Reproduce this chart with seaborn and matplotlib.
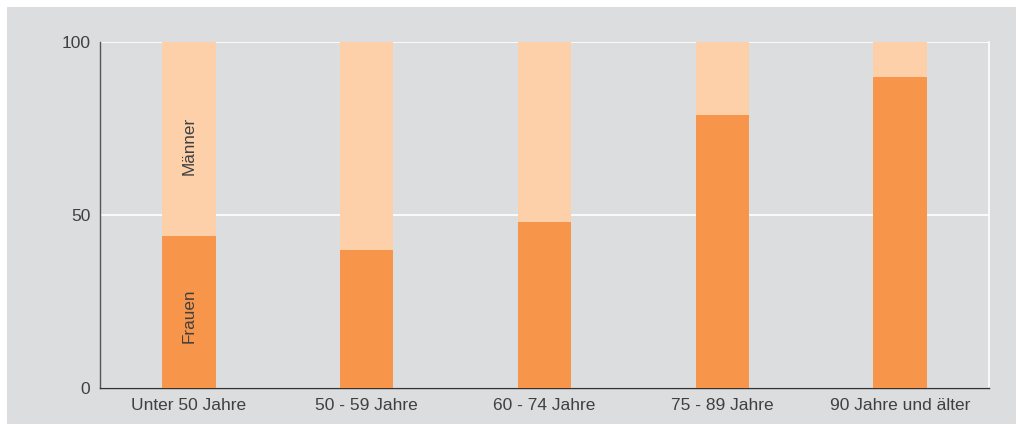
import matplotlib
matplotlib.use("Agg")
import matplotlib.pyplot as plt
import seaborn as sns
import pandas as pd
from matplotlib.patches import Rectangle

# data (percent)
groups = ["Unter 50 Jahre", "50 - 59 Jahre", "60 - 74 Jahre", "75 - 89 Jahre", "90 Jahre und älter"]
frauen = [44, 40, 48, 79, 90]
maenner = [100 - f for f in frauen]

df = pd.DataFrame({"Gruppe": groups, "Frauen": frauen, "Männer": maenner})
df["Gesamt"] = df["Frauen"] + df["Männer"]

bg = "#DCDDDF"
c_frauen = "#F7964A"
c_maenner = "#FDD0A9"
txt = "#404040"

sns.set_style("white")
plt.rcParams["font.family"] = ["Liberation Sans", "DejaVu Sans"]

fig = plt.figure(figsize=(10.2, 4.24), dpi=100)
fig.patch.set_facecolor("white")
fig.patches.append(Rectangle((7 / 1020, 0), 1009 / 1020, 1 - 7 / 424, transform=fig.transFigure,
                             facecolor=bg, edgecolor="none", zorder=-10))
ax = fig.add_axes([100 / 1020, 1 - 388 / 424, 889 / 1020, 346 / 424])
ax.set_facecolor(bg)

# stacked bars: full height (Männer) behind, Frauen on top
sns.barplot(data=df, x="Gruppe", y="Gesamt", color=c_maenner, width=0.30,
            saturation=1, linewidth=0, ax=ax, zorder=2)
sns.barplot(data=df, x="Gruppe", y="Frauen", color=c_frauen, width=0.30,
            saturation=1, linewidth=0, ax=ax, zorder=3)

ax.set_xlim(-0.5, 4.5)
ax.set_ylim(0, 100)
ax.set_yticks([0, 50, 100])
ax.yaxis.grid(True, color="white", linewidth=1.2)
ax.set_axisbelow(True)
ax.set_xlabel("")
ax.set_ylabel("")

ax.spines["top"].set_visible(False)
ax.spines["right"].set_color("white")
ax.spines["right"].set_linewidth(1.2)
ax.spines["left"].set_color("#555555")
ax.spines["bottom"].set_color("#333333")
ax.spines["left"].set_linewidth(1)
ax.spines["bottom"].set_linewidth(1)

ax.tick_params(axis="both", length=0, labelsize=12.5, colors=txt)
ax.tick_params(axis="x", pad=7)
ax.tick_params(axis="y", pad=7)

ax.text(0, 70, "Männer", rotation=90, ha="center", va="center", fontsize=12.3, color=txt, zorder=5)
ax.text(0, 21, "Frauen", rotation=90, ha="center", va="center", fontsize=12.3, color=txt, zorder=5)

fig.savefig("out.png", dpi=100, facecolor=fig.get_facecolor())
